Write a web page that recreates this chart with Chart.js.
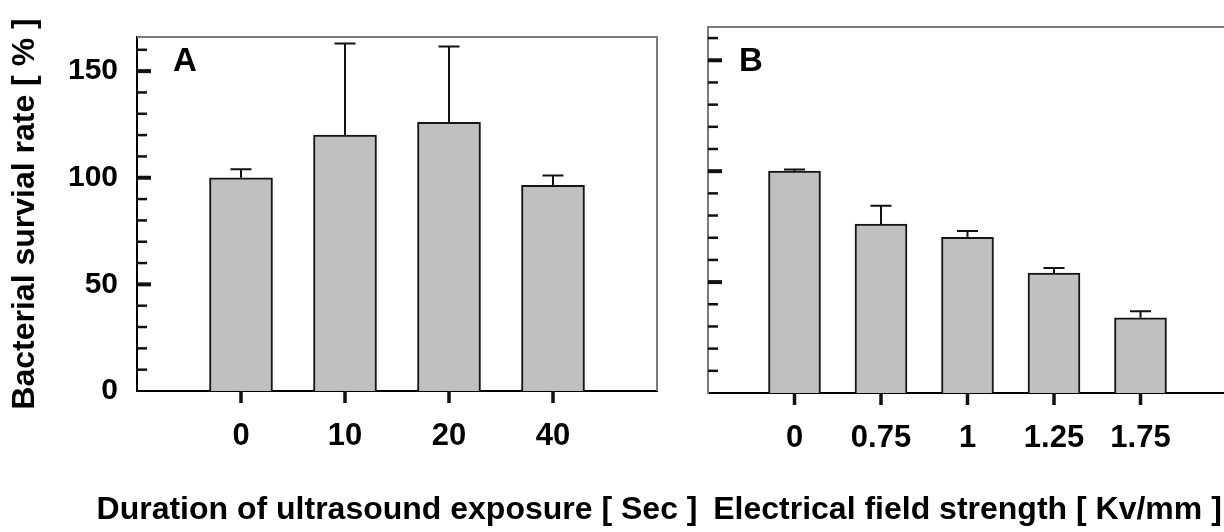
<!DOCTYPE html>
<html>
<head>
<meta charset="utf-8">
<script src="https://cdn.jsdelivr.net/npm/chart.js@4/dist/chart.umd.min.js"></script>
<style>
	html, body { margin: 0; padding: 0; background: #fff; overflow: hidden; width: 1224px; height: 532px; }
	canvas { position: absolute; top: 0; }
	#chartA { left: 0; }
	#chartB { left: 660px; }
</style>
</head>
<body>
<canvas id="chartA" width="720" height="532"></canvas>
<canvas id="chartB" width="600" height="532"></canvas>
<script>
// panel A: ultrasound exposure
const durationLabels = ['0', '10', '20', '40'];
const durationSurvival = [100, 120, 126, 96.5];
const durationError = [4, 43, 35.5, 4.5];

// panel B: electrical field
const fieldLabels = ['0', '0.75', '1', '1.25', '1.75'];
const fieldSurvival = [100, 76.2, 70.2, 54.1, 33.9];
const fieldError = [0.8, 8.2, 2.8, 2.2, 2.9];

const yTicks = [0, 50, 100, 150];
const yTitle = 'Bacterial survial rate [ % ]';

const FONT = '"Liberation Sans", Arial, Helvetica, sans-serif';

// error bars, inward minor ticks, frame and titles
const panelDecor = {
	id: 'panelDecor',
	afterDatasetsDraw(chart, args, opts) {
		let ctx = chart.ctx;
		let y = chart.scales.y;
		let vals = chart.data.datasets[0].data;
		ctx.save();
		ctx.strokeStyle = '#111';
		ctx.lineWidth = 2;
		chart.getDatasetMeta(0).data.forEach(function(bar, i) {
			let top = y.getPixelForValue(vals[i].y + opts.errors[i]);
			ctx.beginPath();
			ctx.moveTo(bar.x, bar.y);
			ctx.lineTo(bar.x, top);
			ctx.moveTo(bar.x - 10.5, top);
			ctx.lineTo(bar.x + 10.5, top);
			ctx.stroke();
		});
		ctx.restore();
	},
	afterDraw(chart, args, opts) {
		let ctx = chart.ctx;
		let a = chart.chartArea;
		let x = chart.scales.x;
		let y = chart.scales.y;
		ctx.save();

		// grey top / right frame
		ctx.strokeStyle = '#7a7a7a';
		ctx.lineWidth = 2;
		ctx.beginPath();
		ctx.moveTo(a.left, a.top);
		ctx.lineTo(a.right, a.top);
		if (opts.rightFrame) {
			ctx.lineTo(a.right, a.bottom);
		}
		ctx.stroke();

		// y ticks pointing into the plot
		ctx.strokeStyle = '#111';
		for (let v = 10; v <= y.max; v += 10) {
			let major = v % 50 === 0;
			let py = y.getPixelForValue(v);
			ctx.lineWidth = major ? 4 : 2.5;
			ctx.beginPath();
			ctx.moveTo(a.left, py);
			ctx.lineTo(a.left + (major ? 14 : 10), py);
			ctx.stroke();
		}

		// x ticks below the axis
		ctx.lineWidth = 3.5;
		x.ticks.forEach(function(t) {
			let px = x.getPixelForValue(t.value);
			ctx.beginPath();
			ctx.moveTo(px, a.bottom);
			ctx.lineTo(px, a.bottom + 12);
			ctx.stroke();
		});

		ctx.fillStyle = '#000';

		// panel letter
		ctx.font = 'bold 33px ' + FONT;
		ctx.textAlign = 'left';
		ctx.textBaseline = 'alphabetic';
		ctx.fillText(opts.letter, a.left + opts.letterOffset, 71);

		// x title
		ctx.font = 'bold 32px ' + FONT;
		ctx.textAlign = 'center';
		ctx.textBaseline = 'middle';
		ctx.fillText(opts.xTitle, (a.left + a.right) / 2, 510);

		// y title
		if (opts.yTitle) {
			ctx.translate(25, (a.top + a.bottom) / 2);
			ctx.rotate(-Math.PI / 2);
			ctx.fillText(opts.yTitle, 0, 0);
		}
		ctx.restore();
	}
};

function makeChart(id, cfg) {
	return new Chart(document.getElementById(id), {
		type: 'bar',
		data: {
			datasets: [{
				data: cfg.values.map((v, i) => ({x: i + 1, y: v})),
				backgroundColor: '#c0c0c0',
				borderColor: '#151515',
				borderWidth: 2,
				borderSkipped: 'start',
				barThickness: cfg.barWidth
			}]
		},
		options: {
			responsive: false,
			animation: false,
			events: [],
			layout: {
				padding: cfg.padding
			},
			plugins: {
				legend: { display: false },
				tooltip: { enabled: false },
				panelDecor: {
					errors: cfg.errors,
					letter: cfg.letter,
					letterOffset: cfg.letterOffset,
					xTitle: cfg.xTitle,
					yTitle: cfg.yTitle,
					rightFrame: cfg.rightFrame
				}
			},
			scales: {
				x: {
					type: 'linear',
					offset: false,
					min: 0,
					max: cfg.xMax,
					afterBuildTicks: s => { s.ticks = cfg.labels.map((_, i) => ({value: i + 1})); },
					afterFit: s => { s.height = cfg.xHeight; },
					ticks: {
						padding: 27,
						autoSkip: false,
						maxRotation: 0,
						color: '#000',
						font: { family: FONT, size: 31, weight: 'bold' },
						callback: (v, i) => cfg.labels[i]
					},
					grid: { display: false, drawTicks: false, offset: false },
					border: { display: true, color: '#000', width: 2 }
				},
				y: {
					min: 0,
					max: cfg.yMax,
					afterBuildTicks: s => { s.ticks = yTicks.map(v => ({value: v})); },
					afterFit: s => { s.width = cfg.yWidth; },
					ticks: {
						display: cfg.showYLabels,
						padding: 19,
						color: '#000',
						font: { family: FONT, size: 30, weight: 'bold' }
					},
					grid: { display: false, drawTicks: false },
					border: { display: true, color: cfg.leftColor, width: 2 }
				}
			}
		},
		plugins: [panelDecor]
	});
}

makeChart('chartA', {
	labels: durationLabels,
	values: durationSurvival,
	errors: durationError,
	barWidth: 63,
	xMax: 5,
	yMax: 166,
	padding: { top: 25, right: 63, bottom: 0, left: 0 },
	xHeight: 141,
	yWidth: 137,
	showYLabels: true,
	leftColor: '#000',
	rightFrame: true,
	letter: 'A',
	letterOffset: 36,
	xTitle: 'Duration of ultrasound exposure [ Sec ]',
	yTitle: yTitle
});

makeChart('chartB', {
	labels: fieldLabels,
	values: fieldSurvival,
	errors: fieldError,
	barWidth: 52,
	xMax: 6,
	yMax: 165,
	padding: { top: 27, right: 33, bottom: 0, left: 0 },
	xHeight: 139,
	yWidth: 48,
	showYLabels: false,
	leftColor: '#7a7a7a',
	rightFrame: false,
	letter: 'B',
	letterOffset: 31,
	xTitle: 'Electrical field strength [ Kv/mm ]',
	yTitle: null
});
</script>
</body>
</html>
